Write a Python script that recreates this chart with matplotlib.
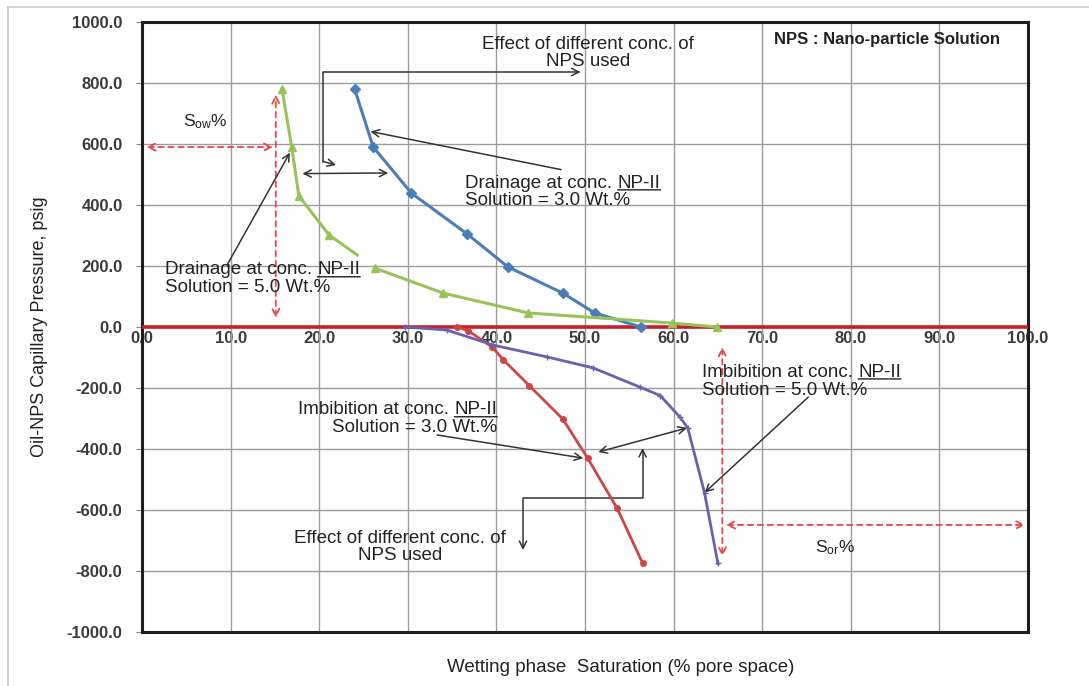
import matplotlib.pyplot as plt
import numpy as np
from matplotlib.lines import Line2D
from matplotlib.patches import FancyArrowPatch
from matplotlib.path import Path
from matplotlib.ticker import FormatStrFormatter

plt.rcParams['font.family'] = ['Liberation Sans', 'DejaVu Sans']
plt.rcParams['mathtext.fontset'] = 'custom'
plt.rcParams['mathtext.rm'] = 'Liberation Sans'
plt.rcParams['mathtext.it'] = 'Liberation Sans:italic'

# drainage, NP-II solution 3.0 wt.%
drain3_sw = [24.0, 26.1, 30.4, 36.7, 41.3, 47.5, 51.1, 56.3]
drain3_pc = [780, 590, 439, 305, 197, 111, 46, 0]

# drainage, NP-II solution 5.0 wt.% (curve is broken between ~24 and ~26 %)
drain5_sw = [15.8, 16.9, 17.7, 21.1, 24.3, np.nan, 26.3, 34.0, 43.6, 59.8, 64.9]
drain5_pc = [780, 590, 430, 302, 236, np.nan, 193, 111, 46, 13, 0]

# imbibition, NP-II solution 3.0 wt.%
imb3_sw = [35.6, 36.8, 39.5, 40.8, 43.7, 47.5, 50.3, 53.6, 56.5]
imb3_pc = [0, -12, -65, -108, -192, -302, -430, -593, -774]

# imbibition, NP-II solution 5.0 wt.%
imb5_sw = [29.7, 34.4, 39.6, 45.7, 50.9, 56.2, 58.5, 60.7, 61.6, 63.5, 65.0]
imb5_pc = [0, -10, -59, -98, -134, -197, -225, -295, -331, -545, -775]

x_ticks = list(range(0, 101, 10))
y_ticks = list(range(-1000, 1001, 200))

TXT = '#222222'
FS = 13.5
SPACE = 0.278 * FS  # width of a blank in points


def arrow(ax, start, end, style='->', color='#333333', lw=1.1, ls='-'):
    ax.annotate('', xy=end, xytext=start,
                arrowprops=dict(arrowstyle=style, color=color, lw=lw, ls=ls,
                                shrinkA=0, shrinkB=0, mutation_scale=13))


def dotted(ax, start, end):
    arrow(ax, start, end, style='<->', color='#e5484a', lw=1.3, ls=(0, (3, 2.5)))


def elbow(ax, verts, style='->'):
    ax.add_patch(FancyArrowPatch(path=Path(verts), arrowstyle=style, color='#333333',
                                 lw=1.1, mutation_scale=13, transform=ax.transData))


def underline(ax, artist):
    ax.annotate('', xy=(0, 0.1), xycoords=artist, xytext=(1, 0.1), textcoords=artist,
                arrowprops=dict(arrowstyle='-', color=TXT, lw=1.0, shrinkA=0, shrinkB=0))


def np_label(ax, x, y1, y2, prefix, word, second, ha='left'):
    kw = dict(fontsize=FS, color=TXT)
    if ha == 'left':
        head = ax.text(x, y1, prefix, ha='left', va='center', **kw)
        tail = ax.annotate(word, xy=(1, 0), xycoords=head, xytext=(SPACE, 0),
                           textcoords='offset points', ha='left', va='bottom', **kw)
    else:
        tail = ax.text(x, y1, word, ha='right', va='center', **kw)
        ax.annotate(prefix, xy=(0, 0), xycoords=tail, xytext=(-SPACE, 0),
                    textcoords='offset points', ha='right', va='bottom', **kw)
    underline(ax, tail)
    ax.text(x, y2, second, ha=ha, va='center', **kw)


fig = plt.figure(figsize=(10.89, 6.86), dpi=100)
ax = fig.add_axes([142 / 1089, 1 - 632 / 686, 886 / 1089, 610 / 686])

ax.set_xlim(0, 100)
ax.set_ylim(-1000, 1000)
ax.set_xticks(x_ticks)
ax.set_yticks(y_ticks)
ax.yaxis.set_major_formatter(FormatStrFormatter('%.1f'))
ax.tick_params(axis='x', length=0, labelbottom=False)
ax.tick_params(axis='y', length=4, color='#888888', labelsize=12, labelcolor='#3a3a3a', pad=10)
for lbl in ax.get_yticklabels():
    lbl.set_fontweight('bold')
ax.grid(True, color='#9c9c9c', lw=1.0)
ax.set_axisbelow(True)
for side in ax.spines.values():
    side.set_linewidth(2.2)
    side.set_color('#1e1e1e')

# x tick labels sit on the zero-pressure line
sec = ax.secondary_xaxis(0.5)
sec.set_alignment('bottom')
sec.set_xticks(x_ticks)
sec.xaxis.set_major_formatter(FormatStrFormatter('%.1f'))
sec.tick_params(length=0, pad=3, labelsize=12, labelcolor='#3a3a3a')
for lbl in sec.get_xticklabels():
    lbl.set_fontweight('bold')
for side in sec.spines.values():
    side.set_visible(False)

ax.axhline(0, color='#c42026', lw=2.6, zorder=3)

ax.plot(drain3_sw, drain3_pc, color='#4a7ebb', lw=2.2, marker='D', ms=5, zorder=4)
ax.plot(drain5_sw, drain5_pc, color='#98c25a', lw=2.2, marker='^', ms=6,
        markevery=[0, 1, 2, 3, 6, 7, 8, 9, 10], zorder=4)
ax.plot(imb3_sw, imb3_pc, color='#cf4545', lw=2.0, marker='o', ms=4, zorder=4)
ax.plot(imb5_sw, imb5_pc, color='#6c5fb0', lw=2.0, marker='+', ms=4, mew=1, zorder=4)

ax.set_ylabel('Oil-NPS Capillary Pressure, psig', fontsize=13, color=TXT)
ax.yaxis.set_label_coords(-0.106, 0.5)
ax.set_xlabel('Wetting phase  Saturation (% pore space)', fontsize=13.5, color=TXT)
ax.xaxis.set_label_coords(0.54, -0.045)

# residual saturation markers
dotted(ax, (15.1, 30), (15.1, 762))
dotted(ax, (0.5, 590), (14.8, 590))
ax.text(7.2, 672, 'S$_{\\mathrm{ow}}$%', fontsize=FS - 1, color=TXT, ha='center', va='center')
dotted(ax, (65.5, -66), (65.5, -752))
dotted(ax, (65.9, -649), (99.7, -649))
ax.text(78.2, -725, 'S$_{\\mathrm{or}}$%', fontsize=FS - 1, color=TXT, ha='center', va='center')

# curve labels
np_label(ax, 36.5, 472, 416, 'Drainage at conc.', 'NP-II', 'Solution = 3.0 Wt.%')
arrow(ax, (47.3, 516), (25.8, 641))
np_label(ax, 2.6, 187, 131, 'Drainage at conc.', 'NP-II', 'Solution = 5.0 Wt.%')
arrow(ax, (9.6, 203), (16.7, 572))
np_label(ax, 40.1, -272, -331, 'Imbibition at conc.', 'NP-II', 'Solution = 3.0 Wt.%', ha='right')
arrow(ax, (33.3, -354), (49.8, -430))
np_label(ax, 63.2, -148, -207, 'Imbibition at conc.', 'NP-II', 'Solution = 5.0 Wt.%')
arrow(ax, (75.2, -230), (63.5, -543))

# concentration effect, drainage
arrow(ax, (18.1, 503), (27.8, 505), style='<->')
elbow(ax, [(20.4, 541), (20.4, 836), (49.5, 836)])
arrow(ax, (20.4, 543), (21.9, 531))
ax.text(50.3, 925, 'Effect of different conc. of', fontsize=FS, color=TXT, ha='center', va='center')
ax.text(50.3, 869, 'NPS used', fontsize=FS, color=TXT, ha='center', va='center')

# concentration effect, imbibition
arrow(ax, (51.5, -410), (61.5, -331), style='<->')
elbow(ax, [(56.5, -397), (56.5, -561), (43.0, -561), (43.0, -731)], style='<->')
ax.text(29.1, -692, 'Effect of different conc. of', fontsize=FS, color=TXT, ha='center', va='center')
ax.text(29.1, -748, 'NPS used', fontsize=FS, color=TXT, ha='center', va='center')

ax.text(84.1, 941, 'NPS : Nano-particle Solution', fontsize=12, fontweight='bold',
        color=TXT, ha='center', va='center')

# page frame around the chart
fig.add_artist(Line2D([8 / 1089, 1], [1 - 7 / 686] * 2, transform=fig.transFigure,
                      color='#cccccc', lw=1.2))
fig.add_artist(Line2D([8 / 1089] * 2, [0, 1 - 7 / 686], transform=fig.transFigure,
                      color='#cccccc', lw=1.2))

fig.savefig('out.png', dpi=100)
